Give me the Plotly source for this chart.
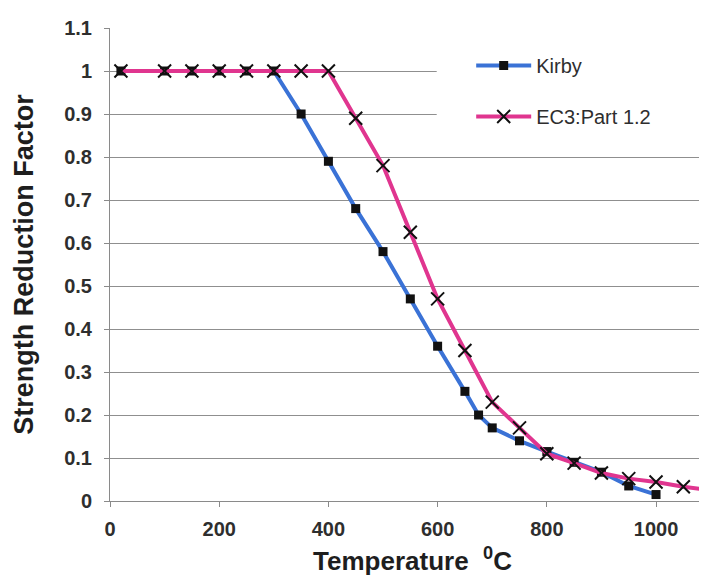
import plotly.graph_objects as go

# Data
kirby_temp = [20, 100, 150, 200, 250, 300, 350, 400, 450, 500, 550, 600, 650, 675, 700, 750, 800, 850, 900, 950, 1000]
kirby_factor = [1, 1, 1, 1, 1, 1, 0.9, 0.79, 0.68, 0.58, 0.47, 0.36, 0.255, 0.2, 0.17, 0.14, 0.115, 0.09, 0.067, 0.035, 0.015]

ec3_temp = [20, 100, 150, 200, 250, 300, 350, 400, 450, 500, 550, 600, 650, 700, 750, 800, 850, 900, 950, 1000, 1050, 1100]
ec3_factor = [1, 1, 1, 1, 1, 1, 1, 1, 0.89, 0.78, 0.625, 0.47, 0.35, 0.23, 0.17, 0.11, 0.088, 0.065, 0.052, 0.044, 0.033, 0.025]

x_ticks = [0, 200, 400, 600, 800, 1000]
y_ticks = [0, 0.1, 0.2, 0.3, 0.4, 0.5, 0.6, 0.7, 0.8, 0.9, 1.0, 1.1]
y_labels = ["0", "0.1", "0.2", "0.3", "0.4", "0.5", "0.6", "0.7", "0.8", "0.9", "1", "1.1"]

FONT = "Liberation Sans, Arial, sans-serif"
TXT = "#2e2e2e"

fig = go.Figure()
fig.add_trace(go.Scatter(
    x=kirby_temp, y=kirby_factor, name="Kirby", mode="lines+markers",
    legendgroup="a", cliponaxis=False,
    line=dict(color="#3a72d6", width=4),
    marker=dict(symbol="square", size=9, color="#111111"),
))
fig.add_trace(go.Scatter(
    x=ec3_temp, y=ec3_factor, name="EC3:Part 1.2", mode="lines+markers",
    legendgroup="b", cliponaxis=False,
    line=dict(color="#e0358f", width=4),
    marker=dict(symbol="x-thin", size=13, color="#111111",
                line=dict(color="#111111", width=2)),
))

fig.add_shape(type="rect", xref="paper", yref="paper",
              x0=0.54, x1=0.99, y0=0.745, y1=0.965,
              fillcolor="white", line=dict(width=0), layer="above")

fig.update_layout(
    width=707, height=582,
    margin=dict(l=102, r=0, t=20, b=89),
    paper_bgcolor="white", plot_bgcolor="white",
    font=dict(family=FONT, color=TXT),
    showlegend=True,
    legend=dict(x=0.597, y=0.962, xanchor="left", yanchor="top",
                bgcolor="rgba(255,255,255,0)", borderwidth=0,
                font=dict(size=20, family=FONT, color=TXT),
                tracegroupgap=22, itemwidth=55, traceorder="grouped"),
    xaxis=dict(
        range=[0, 1108], tickvals=x_ticks, ticktext=[str(v) for v in x_ticks],
        showgrid=False, zeroline=False,
        showline=True, linecolor="#8a8a8a", linewidth=1,
        ticks="outside", ticklen=5, tickcolor="#8a8a8a",
        tickfont=dict(size=20, family=FONT, color=TXT, weight="bold"),
        ticklabelstandoff=5,
        title=dict(text="Temperature  <sup>0</sup>C", standoff=12,
                   font=dict(size=26, family=FONT, color="#1e1e1e", weight="bold")),
    ),
    yaxis=dict(
        range=[0, 1.1], tickvals=y_ticks, ticktext=y_labels,
        showgrid=True, gridcolor="#8f8f8f", gridwidth=1, zeroline=False,
        showline=True, linecolor="#8a8a8a", linewidth=1,
        ticks="outside", ticklen=5, tickcolor="#8a8a8a",
        tickfont=dict(size=20, family=FONT, color=TXT, weight="bold"),
        ticklabelstandoff=8,
        title=dict(text="Strength Reduction Factor", standoff=22,
                   font=dict(size=27, family=FONT, color="#1e1e1e", weight="bold")),
    ),
)

fig.write_html("out.html")
